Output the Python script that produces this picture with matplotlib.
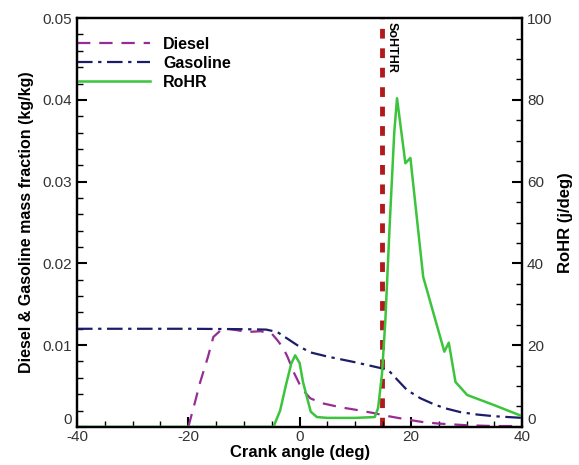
import numpy as np
import matplotlib.pyplot as plt
from matplotlib.ticker import MultipleLocator

plt.rcParams['font.family'] = ['Liberation Sans', 'DejaVu Sans']
plt.rcParams['axes.unicode_minus'] = False

# crank angle (deg) and mass fractions (kg/kg)
diesel_ca = [-20, -19, -17.9, -16.5, -15.5, -14.2, -13, -11, -9.5, -7, -5, -4, -3, -2.2, -1, 0, 1, 1.9, 4, 7.3, 10, 13.2, 16, 19.3, 22, 25, 30, 35, 40]
diesel_y = [0, 0.0025, 0.0054, 0.0085, 0.011, 0.0118, 0.012, 0.0118, 0.0116, 0.0117, 0.0114, 0.0106, 0.0097, 0.0086, 0.0066, 0.0052, 0.0042, 0.0035, 0.0029, 0.0024, 0.0021, 0.0017, 0.0013, 0.0009, 0.0006, 0.0004, 0.0002, 0.0001, 0.0001]

gasoline_ca = [-40, -30, -20, -10, -6, -4, -2, 0, 2, 5, 10, 14.5, 16, 17.5, 19.3, 21.7, 24, 26, 28.9, 32, 35, 40]
gasoline_y = [0.012, 0.012, 0.012, 0.01195, 0.0119, 0.0116, 0.0107, 0.0098, 0.0091, 0.0086, 0.0079, 0.0072, 0.0069, 0.0058, 0.0045, 0.0035, 0.0028, 0.0023, 0.0018, 0.0015, 0.0013, 0.0011]

# rate of heat release (J/deg)
rohr_ca = [-40, -4.7, -3.5, -2.5, -1.5, -0.8, 0, 0.6, 1.3, 2, 3.1, 5, 10, 13.5, 14.1, 14.8, 15.4, 16.2, 17, 17.5, 19, 19.9, 22.2, 26, 26.8, 28, 30.1, 34.8, 40]
rohr_y = [0, 0, 4, 10, 15.5, 17.5, 15.6, 11, 7.3, 3.7, 2.4, 2.2, 2.2, 2.4, 4.6, 13, 26, 50, 72, 80.4, 64.5, 65.8, 36.7, 18.4, 20.6, 11, 7.8, 5.4, 2.6]

sohthr_ca = 14.8

fig = plt.figure(figsize=(5.79, 4.65), dpi=100)
ax = fig.add_axes([0.133, 0.082, 0.769, 0.879])
ax2 = ax.twinx()

l1, = ax.plot(diesel_ca, diesel_y, color='#962d96', lw=1.6, ls=(0, (6, 4)), label='Diesel')
l2, = ax.plot(gasoline_ca, gasoline_y, color='#1c1c6a', lw=1.6, ls=(0, (7, 2.5, 1.5, 2.5)), label='Gasoline')
l3, = ax2.plot(rohr_ca, rohr_y, color='#3cc43c', lw=1.8, label='RoHR')
ax.axvline(sohthr_ca, color='#b01a1a', lw=3.5, ls=(0, (2, 2)), zorder=1)
ax.text(sohthr_ca + 0.6, 0.0495, 'SoHTHR', rotation=-90, fontsize=9, fontweight='bold',
        ha='left', va='top')

ax.set_xlim(-40, 40)
ax.set_ylim(0, 0.05)
ax2.set_ylim(0, 100)

ax.xaxis.set_major_locator(MultipleLocator(20))
ax.xaxis.set_minor_locator(MultipleLocator(5))
ax.yaxis.set_minor_locator(MultipleLocator(0.002))
ax2.set_yticks([0, 20, 40, 60, 80, 100])
ax2.yaxis.set_minor_locator(MultipleLocator(5))
ax.set_yticks([0, 0.01, 0.02, 0.03, 0.04, 0.05])
ax.set_yticklabels(['0', '0.01', '0.02', '0.03', '0.04', '0.05'])

for a in (ax, ax2):
    a.tick_params(which='major', direction='in', length=7, width=1.5, labelsize=11, colors='black',
                  labelcolor='#333333')
    a.tick_params(which='minor', direction='in', length=4, width=1)
    for s in a.spines.values():
        s.set_linewidth(1.6)
ax.tick_params(axis='x', pad=2)

fig.canvas.draw()
# lift the "0" labels so they sit just above the x tick labels
ax.yaxis.get_major_ticks()[0].label1.set_va('bottom')
ax2.yaxis.get_major_ticks()[0].label2.set_va('bottom')

ax.set_xlabel('Crank angle (deg)', fontsize=12, fontweight='bold', labelpad=1)
ax.set_ylabel('Diesel & Gasoline mass fraction (kg/kg)', fontsize=11.5, fontweight='bold', labelpad=6)
ax2.set_ylabel('RoHR (j/deg)', fontsize=12, fontweight='bold')

leg = ax.legend(handles=[l1, l2, l3], loc='upper left', bbox_to_anchor=(0.0, 0.955), frameon=False,
                prop={'weight': 'bold', 'size': 11.5}, handlelength=4.6,
                borderaxespad=0.0, labelspacing=0.25, borderpad=0.0, handletextpad=0.8)

fig.savefig('out.png', dpi=100)
